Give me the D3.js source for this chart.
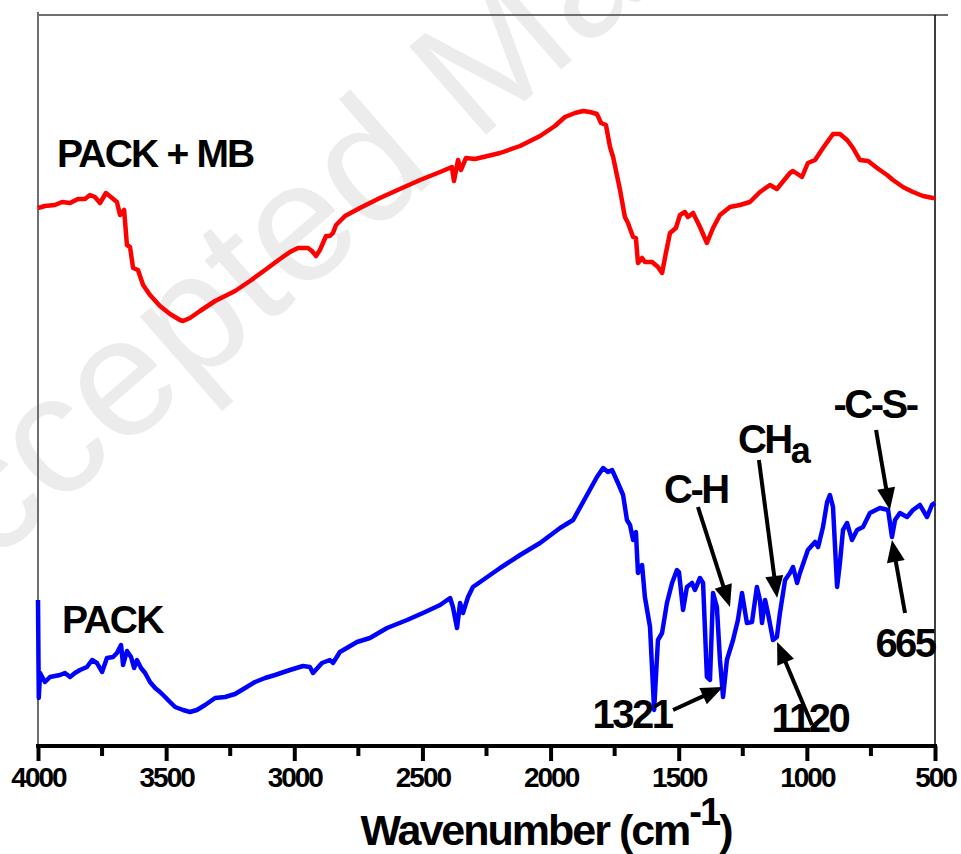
<!DOCTYPE html>
<html>
<head>
<meta charset="utf-8">
<script src="https://cdn.jsdelivr.net/npm/d3@7"></script>
<style>
  body { margin: 0; background: #fff; }
  svg text { font-family: "Liberation Sans", Arial, sans-serif; font-weight: bold; }
</style>
</head>
<body>
<div id="chart"></div>
<script>
// FTIR spectra, wavenumber (cm-1) vs. transmittance (arbitrary units, offset)
const packMbWave = [4000, 3973, 3934, 3906, 3875, 3844, 3817, 3797, 3778, 3758, 3735, 3711, 3692, 3680, 3664, 3653, 3641, 3629, 3610, 3590,
  3563, 3524, 3485, 3446, 3434, 3407, 3368, 3309, 3270, 3231, 3173, 3114, 3056, 3017, 2986, 2947, 2931, 2915, 2900, 2876,
  2861, 2849, 2837, 2802, 2744, 2666, 2588, 2509, 2431, 2385, 2377, 2361, 2350, 2330, 2295, 2197, 2119, 2041, 1983, 1944,
  1905, 1873, 1846, 1819, 1803, 1784, 1768, 1756, 1729, 1710, 1698, 1678, 1667, 1659, 1643, 1632, 1604, 1581, 1565, 1550,
  1534, 1511, 1495, 1476, 1464, 1444, 1417, 1390, 1366, 1339, 1300, 1261, 1222, 1183, 1144, 1117, 1066, 1054, 1019, 996,
  968, 937, 898, 871, 843, 820, 793, 761, 726, 687, 664, 625, 586, 547, 508, 500];
const packMbT = [538, 540, 541, 544, 543, 547, 547, 551, 549, 543, 553, 548, 544, 531, 536, 501, 499, 478, 476, 461,
  451, 440, 432, 426, 425, 428, 435, 445, 450, 455, 465, 476, 487, 494, 498, 498, 495, 490, 496, 510,
  510, 513, 521, 530, 538, 548, 557, 566, 574, 579, 565, 586, 576, 588, 587, 593, 600, 610, 620, 629,
  633, 635, 634, 632, 623, 621, 599, 589, 556, 529, 523, 509, 508, 483, 488, 484, 484, 479, 473, 493,
  513, 518, 531, 534, 529, 533, 519, 503, 518, 531, 539, 541, 544, 554, 561, 557, 573, 575, 569, 583,
  586, 598, 612, 612, 606, 598, 586, 585, 578, 571, 566, 559, 554, 550, 548, 548];

const packWave = [4000, 3997, 3992, 3973, 3953, 3934, 3914, 3895, 3875, 3856, 3836, 3809, 3789, 3770, 3750, 3731, 3707, 3692, 3676, 3668,
  3653, 3637, 3625, 3614, 3598, 3582, 3563, 3543, 3524, 3504, 3485, 3465, 3434, 3407, 3380, 3348, 3309, 3270, 3231, 3192,
  3153, 3114, 3075, 3017, 2966, 2939, 2927, 2892, 2861, 2849, 2822, 2755, 2705, 2638, 2560, 2498, 2431, 2392, 2381, 2365,
  2353, 2342, 2322, 2303, 2275, 2197, 2119, 2041, 1963, 1912, 1858, 1819, 1795, 1776, 1760, 1737, 1717, 1702, 1690, 1678,
  1667, 1659, 1643, 1632, 1612, 1596, 1581, 1565, 1546, 1526, 1507, 1499, 1483, 1468, 1448, 1437, 1417, 1405, 1390, 1378,
  1366, 1351, 1339, 1327, 1312, 1288, 1269, 1253, 1234, 1214, 1195, 1183, 1175, 1163, 1152, 1132, 1117, 1105, 1085, 1066,
  1054, 1038, 1027, 996, 968, 956, 937, 921, 910, 898, 882, 871, 859, 843, 824, 804, 781, 754, 715, 683,
  668, 656, 637, 609, 586, 559, 531, 512, 500];
const packT = [146, 48, 73, 64, 69, 70, 71, 73, 69, 73, 76, 79, 86, 83, 74, 88, 89, 93, 101, 81,
  95, 89, 78, 86, 78, 73, 64, 58, 54, 49, 44, 39, 36, 34, 36, 41, 48, 49, 52, 58,
  64, 68, 71, 76, 80, 79, 73, 83, 86, 83, 94, 104, 108, 118, 126, 133, 141, 148, 139, 118,
  143, 133, 149, 159, 164, 178, 191, 203, 218, 226, 251, 269, 278, 274, 276, 263, 251, 226, 221, 206,
  214, 173, 181, 149, 119, 36, 106, 113, 143, 163, 176, 174, 136, 159, 163, 156, 168, 163, 69, 66,
  153, 139, 86, 49, 86, 106, 126, 153, 123, 124, 159, 146, 123, 146, 133, 106, 109, 133, 166, 173,
  179, 163, 173, 196, 204, 199, 219, 244, 251, 239, 159, 183, 216, 223, 206, 216, 219, 233, 238, 236,
  209, 226, 233, 229, 236, 241, 229, 241, 243];

const majorTicks = [4000, 3500, 3000, 2500, 2000, 1500, 1000, 500];
const minorTicks = [3750, 3250, 2750, 2250, 1750, 1250, 750];

// series labels: [text, wavenumber, value]
const seriesLabels = [["PACK + MB", 3926, 579], ["PACK", 3906, 113]];

// peak annotations: label, label position, arrow tail, arrow tip
const peakLabels = ["C-H", "CH", "-C-S-", "665", "1120", "1321"];
const labelWave = [1433, 1269, 734, 617, 988, 1682];
const labelT = [243, 293, 328, 89, 14, 18];
const labelAnchor = ["middle", "start", "middle", "middle", "middle", "middle"];
const tailWave = [1425, 1187, 730, 617, 980, 1522];
const tailT = [239, 286, 316, 133, 21, 36];
const tipWave = [1300, 1116, 676, 668, 1116, 1327];
const tipT = [139, 148, 236, 206, 104, 59];

const width = 961, height = 854;
const svg = d3.select("#chart").append("svg")
  .attr("width", width).attr("height", height);

const x = d3.scaleLinear().domain([4000, 500]).range([38, 935]);
const y = d3.scaleLinear().domain([0, 731]).range([746, 15]);

// watermark, clipped by the page edge like in the original
svg.append("text")
  .attr("transform", "translate(-95,640) rotate(-41)")
  .attr("fill", "#ececec")
  .style("font-weight", "normal")
  .style("font-size", "170px")
  .text("Accepted Manuscript");

// frame
svg.append("line").attr("x1", x(4000)).attr("x2", x(4000)).attr("y1", 12).attr("y2", y(0))
  .attr("stroke", "#6e6e6e").attr("stroke-width", 2);
svg.append("line").attr("x1", x(4000)).attr("x2", 948).attr("y1", y(731)).attr("y2", y(731))
  .attr("stroke", "#6e6e6e").attr("stroke-width", 2);
svg.append("line").attr("x1", x(500)).attr("x2", x(500)).attr("y1", y(731)).attr("y2", y(0))
  .attr("stroke", "#000").attr("stroke-width", 1.5);

// spectra
const line = d3.line().x(d => x(d[0])).y(d => y(d[1]));
svg.append("path").datum(d3.zip(packMbWave, packMbT))
  .attr("d", line).attr("fill", "none").attr("stroke", "#ff0000")
  .attr("stroke-width", 4.5).attr("stroke-linejoin", "round");
svg.append("path").datum(d3.zip(packWave, packT))
  .attr("d", line).attr("fill", "none").attr("stroke", "#0000ff")
  .attr("stroke-width", 4.5).attr("stroke-linejoin", "round");

// bottom axis
const gx = svg.append("g").attr("transform", `translate(0,${y(0)})`);
gx.call(d3.axisBottom(x).tickValues(majorTicks).tickSize(15).tickSizeOuter(0).tickFormat(d3.format("d")));
gx.select(".domain").attr("stroke-width", 4).attr("d", `M${x(4000) - 2},0H${x(500) + 2}`);
gx.selectAll(".tick line").attr("stroke-width", 4);
gx.selectAll(".tick text")
  .attr("y", 21).attr("dy", "0.71em")
  .style("font-size", "28px").style("letter-spacing", "-2px")
  .attr("fill", "#000");

svg.append("g").selectAll("line").data(minorTicks).join("line")
  .attr("x1", d => x(d)).attr("x2", d => x(d))
  .attr("y1", y(0)).attr("y2", y(0) + 10)
  .attr("stroke", "#000").attr("stroke-width", 4);

// axis title
const title = svg.append("text")
  .attr("x", 546).attr("y", 845)
  .attr("text-anchor", "middle")
  .style("font-size", "43px").style("letter-spacing", "-2px");
title.append("tspan").text("Wavenumber (cm");
title.append("tspan").attr("dy", -20).style("font-size", "38px").text("-1");
title.append("tspan").attr("dy", 20).text(")");

// series labels
svg.append("g").selectAll("text").data(seriesLabels).join("text")
  .attr("x", d => x(d[1])).attr("y", d => y(d[2]))
  .style("font-size", "39px").style("letter-spacing", "-1.8px")
  .text(d => d[0]);

// peak labels
const labels = svg.append("g").selectAll("text").data(peakLabels).join("text")
  .attr("x", (d, i) => x(labelWave[i])).attr("y", (d, i) => y(labelT[i]))
  .attr("text-anchor", (d, i) => labelAnchor[i])
  .style("font-size", "40px").style("letter-spacing", "-2.5px")
  .text(d => d);
labels.filter(d => d === "CH").append("tspan")
  .attr("dy", 10).style("font-size", "36px").text("a");

// arrows
const headLen = 22, headHalf = 9;
const arrows = svg.append("g");
peakLabels.forEach((d, i) => {
  const x0 = x(tailWave[i]), y0 = y(tailT[i]);
  const x1 = x(tipWave[i]), y1 = y(tipT[i]);
  const len = Math.hypot(x1 - x0, y1 - y0);
  const ux = (x1 - x0) / len, uy = (y1 - y0) / len;
  const bx = x1 - ux * headLen, by = y1 - uy * headLen;
  arrows.append("line")
    .attr("x1", x0).attr("y1", y0).attr("x2", bx + ux * 2).attr("y2", by + uy * 2)
    .attr("stroke", "#000").attr("stroke-width", 4);
  arrows.append("path")
    .attr("d", `M${x1},${y1}L${bx - uy * headHalf},${by + ux * headHalf}L${bx + uy * headHalf},${by - ux * headHalf}Z`)
    .attr("fill", "#000");
});
</script>
</body>
</html>
